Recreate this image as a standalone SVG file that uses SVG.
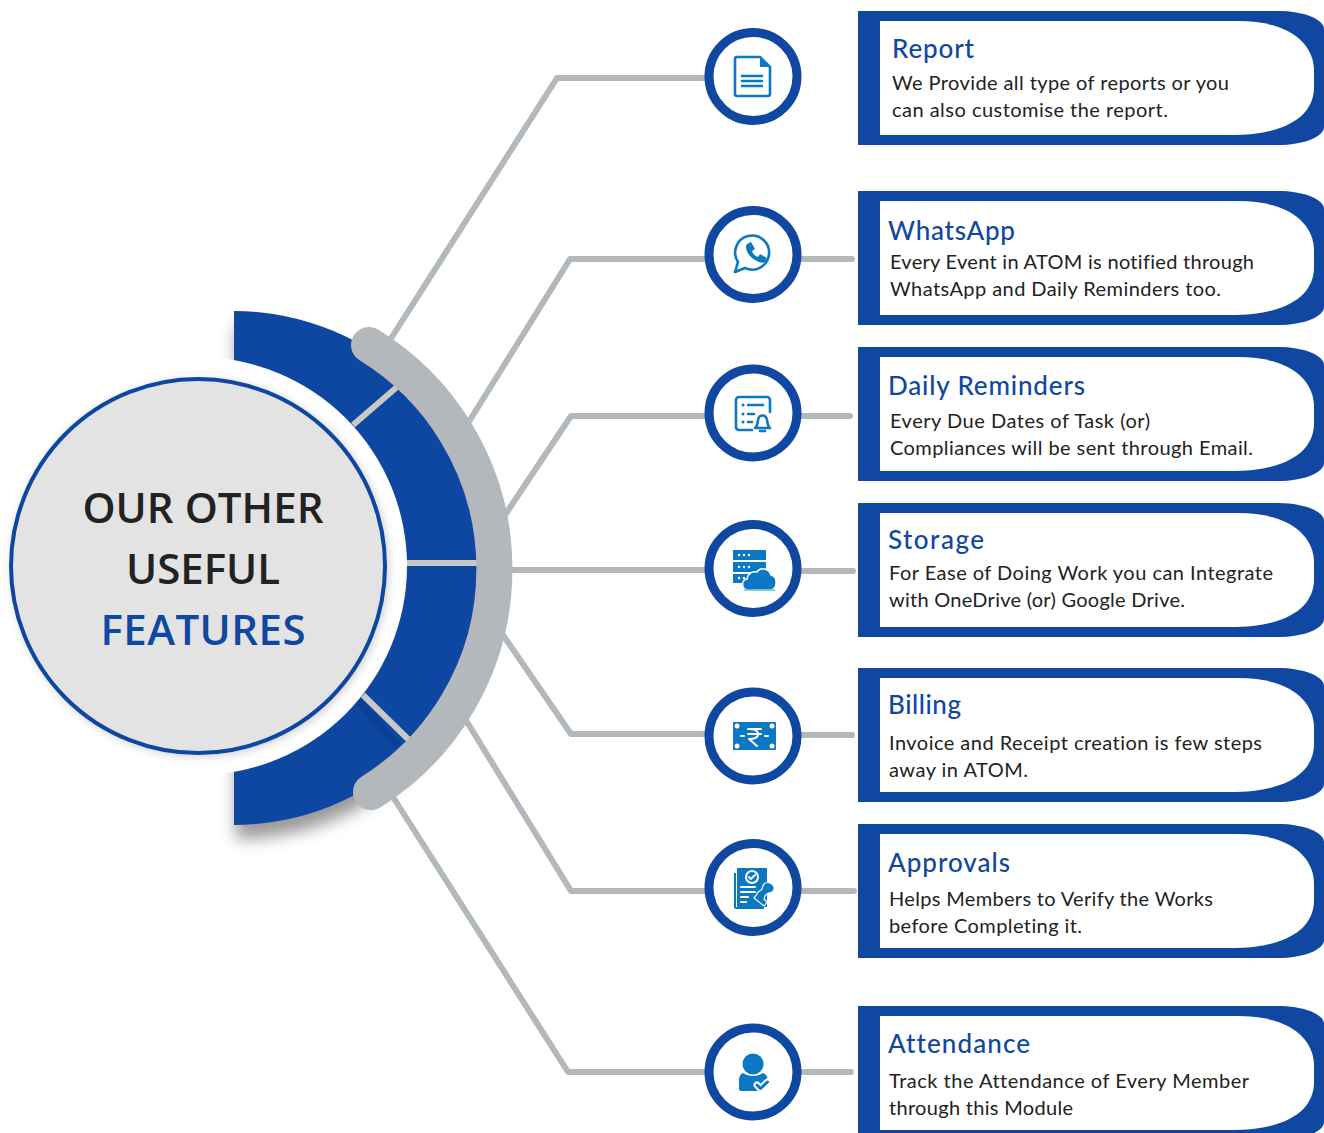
<svg xmlns="http://www.w3.org/2000/svg" width="1324" height="1133" viewBox="0 0 1324 1133">
<style>
text{font-variant-ligatures:none}
.conn{fill:none;stroke:#b3b8bc;stroke-width:6;stroke-linejoin:round;stroke-linecap:round}
.ring{fill:#fff;stroke:#0f47a1;stroke-width:9}
.frame{fill:#0f47a1}
.inner{fill:#fff}
.title{font-family:"Lato","Noto Sans",sans-serif;font-size:26px;font-weight:500;fill:#0f47a1}
.body{font-family:"Lato","Noto Sans",sans-serif;font-size:20px;fill:#222}
.big{font-family:"Open Sans","Noto Sans",sans-serif;font-size:42px;font-weight:600;text-anchor:middle}
.ic{fill:#0a78c2}
.il{fill:none;stroke:#0a78c2;stroke-width:2.6;stroke-linecap:round;stroke-linejoin:round}
.iw{fill:none;stroke:#fff;stroke-width:2;stroke-linecap:round;stroke-linejoin:round}
</style>
<defs>
<filter id="sh" x="-20%" y="-20%" width="140%" height="140%"><feDropShadow dx="2" dy="14" stdDeviation="8" flood-color="#000" flood-opacity=".4"/></filter>
<filter id="sh2" x="-10%" y="-10%" width="120%" height="120%"><feDropShadow dx="2" dy="2" stdDeviation="4" flood-color="#000" flood-opacity=".18"/></filter>
<path id="card" d="M0 0H420C445 0 466 8 466 18V116C466 126 445 134 420 134H0Z"/>
<path id="cardin" d="M22 10H380C430 10 456 32 456 60V76C456 104 430 124 372 124H22Z"/>
</defs>

<g id="connectors">
<path class="conn" d="M390 340L557 78H706"/>
<path class="conn" d="M470 420L570 259H706M800 259H852"/>
<path class="conn" d="M505 515L571 416H706M800 416H850"/>
<path class="conn" d="M510 570H706M800 571H853"/>
<path class="conn" d="M503 635L571 734H706M800 735H852"/>
<path class="conn" d="M467 722L571 891H706M800 891H854"/>
<path class="conn" d="M393 797L568 1072H706M800 1072H851"/>
</g>

<g id="hub">
<path fill="#0f47a1" filter="url(#sh)" d="M234 311A257 257 0 0 1 491 568A257 257 0 0 1 234 825Z"/>
<path stroke="#0a3a8c" stroke-width="8" opacity=".6" fill="none" d="M356 698L398 746"/>
<g stroke="#c8c8c8" stroke-width="6" fill="none">
<path d="M353 425L397 387"/>
<path d="M405 563H478"/>
<path d="M363 695L409 740"/>
</g>
<circle cx="198" cy="566" r="209" fill="#fff"/>
<path fill="none" stroke="#b3b8bc" stroke-width="36" stroke-linecap="round" d="M369 345A263 263 0 0 1 371 792"/>
<circle cx="198" cy="566" r="187" fill="#e3e3e3" stroke="#0f47a1" stroke-width="4" filter="url(#sh2)"/>
<text class="big" x="203" y="523" fill="#222" textLength="241">OUR OTHER</text>
<text class="big" x="203" y="584" fill="#222" textLength="154">USEFUL</text>
<text class="big" x="203" y="645" fill="#0f47a1" textLength="205">FEATURES</text>
</g>

<g id="node-report">
<circle class="ring" cx="753" cy="76.500" r="44"/>
<path class="il" d="M735 59a2 2 0 0 1 2-2H760L770 67V94a2 2 0 0 1-2 2H737a2 2 0 0 1-2-2Z"/>
<path class="ic" d="M760 56V67H771Z"/>
<path class="il" stroke-width="2.400" d="M742 76H762M742 81H762M742 86H762"/>
<use href="#card" class="frame" x="858" y="11"/><use href="#cardin" class="inner" x="858" y="11"/>
<text class="title" x="892" y="58" textLength="82">Report</text>
<text class="body" x="892" y="90" textLength="337">We Provide all type of reports or you</text>
<text class="body" x="892" y="117" textLength="276">can also customise the report.</text>
</g>

<g id="node-whatsapp">
<circle class="ring" cx="753" cy="254.500" r="44"/>
<path class="il" stroke-width="3" d="M735 272L738 262A17 17 0 1 1 745 268Z"/>
<path class="ic" transform="translate(2 1)" d="M745 243l4-2 4 7-3 2c1 3 3 5 6 6l2-3 7 4-2 4c-2 1-5 1-8-1-6-3-10-7-11-13 0-2 0-3 1-4z"/>
<use href="#card" class="frame" x="858" y="191"/><use href="#cardin" class="inner" x="858" y="191"/>
<text class="title" x="888" y="240" textLength="127">WhatsApp</text>
<text class="body" x="890" y="269" textLength="364">Every Event in ATOM is notified through</text>
<text class="body" x="890" y="296" textLength="331">WhatsApp and Daily Reminders too.</text>
</g>

<g id="node-reminders">
<circle class="ring" cx="753" cy="413" r="44"/>
<path class="il" stroke-width="3" d="M752 430H739a3 3 0 0 1-3-3V400a3 3 0 0 1 3-3H767a3 3 0 0 1 3 3V412"/>
<path class="il" stroke-width="3" d="M748 405H763M748 414H754M748 422H752"/>
<circle class="ic" cx="743" cy="405" r="1.500"/><circle class="ic" cx="743" cy="414" r="1.500"/><circle class="ic" cx="743" cy="422" r="1.500"/>
<path class="il" stroke-width="3" d="M755 428c3-2 2-4 3-8 1-6 8-6 9 0 1 4 0 6 3 8Z"/>
<path class="il" stroke-width="3" d="M760 431h5"/>
<use href="#card" class="frame" x="858" y="347"/><use href="#cardin" class="inner" x="858" y="347"/>
<text class="title" x="888" y="395" textLength="197">Daily Reminders</text>
<text class="body" x="890" y="428" textLength="260">Every Due Dates of Task (or)</text>
<text class="body" x="890" y="455" textLength="363">Compliances will be sent through Email.</text>
</g>

<g id="node-storage">
<circle class="ring" cx="753" cy="568.500" r="44"/>
<path class="ic" d="M733 550h33v10h-33zM733 562h33v10h-33zM733 574h33v9h-33z"/>
<g fill="#fff"><circle cx="739" cy="555" r="1.200"/><circle cx="744" cy="555" r="1.200"/><circle cx="749" cy="555" r="1.200"/><circle cx="739" cy="567" r="1.200"/><circle cx="744" cy="567" r="1.200"/><circle cx="749" cy="567" r="1.200"/><circle cx="739" cy="578" r="1.200"/><circle cx="744" cy="578" r="1.200"/></g>
<path fill="#0a78c2" stroke="#fff" stroke-width="1.500" d="M748 590c-7 0-7-10-1-11c1-6 6-8 10-7c3-5 12-4 14 3c7 1 7 15-1 15Z"/>
<path d="M744 590H775" stroke="#2a9d9d" stroke-width="1"/>
<use href="#card" class="frame" x="858" y="503"/><use href="#cardin" class="inner" x="858" y="503"/>
<text class="title" x="888" y="549" textLength="96">Storage</text>
<text class="body" x="889" y="580" textLength="384">For Ease of Doing Work you can Integrate</text>
<text class="body" x="889" y="607" textLength="296">with OneDrive (or) Google Drive.</text>
</g>

<g id="node-billing">
<circle class="ring" cx="753" cy="736" r="44"/>
<rect class="ic" x="733" y="722" width="43" height="28" rx="1"/>
<circle fill="#fff" cx="737" cy="726" r="2.500"/><circle fill="#fff" cx="772" cy="726" r="2.500"/><circle fill="#fff" cx="737" cy="746" r="2.500"/><circle fill="#fff" cx="772" cy="746" r="2.500"/>
<path class="iw" d="M741 736h3M765 736h3"/>
<path class="iw" stroke-width="2.400" d="M748 729h13M748 734h13M749 729c7 0 9 2 9 5s-3 5-9 5l8 7"/>
<use href="#card" class="frame" x="858" y="668"/><use href="#cardin" class="inner" x="858" y="668"/>
<text class="title" x="888" y="714" textLength="73">Billing</text>
<text class="body" x="889" y="750" textLength="373">Invoice and Receipt creation is few steps</text>
<text class="body" x="889" y="777" textLength="139">away in ATOM.</text>
</g>

<g id="node-approvals">
<circle class="ring" cx="753" cy="887.500" r="44"/>
<path class="ic" d="M734 873h2v34h28v2h-28a2 2 0 0 1-2-2Z"/>
<rect class="ic" x="737" y="868" width="30" height="39" rx="1"/>
<circle class="iw" cx="752" cy="877" r="6" stroke-width="1.300"/>
<path class="iw" stroke-width="1.300" d="M749 877l2 2 4-4"/>
<path class="iw" stroke-width="1.300" d="M741 887H755M741 892H755M741 897H748M741 902H746"/>
<path fill="#0a78c2" stroke="#fff" stroke-width="1.200" d="M757 893l4-3c2-1 1-4 3-6 3-3 9-1 10 3 1 3-2 6-5 6-2 0-3 2-4 3l-1 3 3 3-3 4-10-8 3-4Z"/>
<use href="#card" class="frame" x="858" y="824"/><use href="#cardin" class="inner" x="858" y="824"/>
<text class="title" x="888" y="872" textLength="122">Approvals</text>
<text class="body" x="889" y="906" textLength="324">Helps Members to Verify the Works</text>
<text class="body" x="889" y="933" textLength="193">before Completing it.</text>
</g>

<g id="node-attendance">
<circle class="ring" cx="753" cy="1072" r="44"/>
<circle class="ic" cx="753" cy="1064" r="10.500"/>
<path class="ic" d="M743 1073c6 4 14 4 20 0 3 1 5 4 5 8v1l-10 9h-17a2 2 0 0 1-2-2V1081c0-4 1-7 4-8Z"/>
<path fill="none" stroke="#fff" stroke-width="7" stroke-linecap="round" stroke-linejoin="round" d="M757 1085l3.500 3.500 7-6.500"/>
<path fill="none" stroke="#0a78c2" stroke-width="3" stroke-linecap="round" stroke-linejoin="round" d="M757 1085l3.500 3.500 7-6.500"/>
<use href="#card" class="frame" x="858" y="1006"/><use href="#cardin" class="inner" x="858" y="1006"/>
<text class="title" x="888" y="1053" textLength="142">Attendance</text>
<text class="body" x="889" y="1088" textLength="360">Track the Attendance of Every Member</text>
<text class="body" x="889" y="1115" textLength="184">through this Module</text>
</g>
</svg>
